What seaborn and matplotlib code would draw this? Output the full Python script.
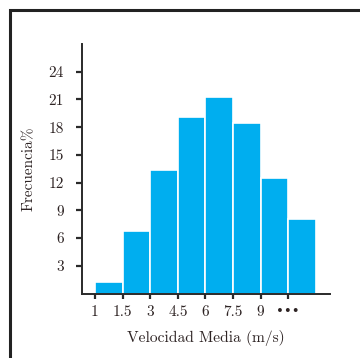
import numpy as np
import pandas as pd
import matplotlib
matplotlib.use("Agg")
import matplotlib.pyplot as plt
from matplotlib.patches import Rectangle
import seaborn as sns

# Wind speed classes (m/s) and the share of records in each class (%)
speed_labels = ["1", "1.5", "3", "4.5", "6", "7.5", "9", "•••"]
frequency_pct = [1.2, 6.8, 13.4, 19.1, 21.3, 18.4, 12.5, 8.1]
y_ticks = [3, 6, 9, 12, 15, 18, 21, 24]

sns.set_theme(style="ticks")
plt.rcParams["font.family"] = ["cmr10", "DejaVu Serif"]
plt.rcParams["mathtext.fontset"] = "cm"
plt.rcParams["axes.formatter.use_mathtext"] = True
plt.rcParams["axes.unicode_minus"] = False

text_color = "#2e2424"
bar_color = "#00AEEF"

fig = plt.figure(figsize=(3.6, 3.58), dpi=100)
fig.patch.set_facecolor("white")
ax = fig.add_axes([82 / 360, 1 - 293.5 / 358, 248 / 360, 249.5 / 358])

n = len(speed_labels)
df = pd.DataFrame({"clase": np.arange(n) + 0.5, "frecuencia": frequency_pct})
sns.histplot(data=df, x="clase", weights="frecuencia", binwidth=1,
             binrange=(0, n), ax=ax, color=bar_color, alpha=1.0,
             edgecolor="white", linewidth=1.2)

ax.set_xlim(-0.47, 8.51)
ax.set_ylim(0, 27)
ax.set_xticks(range(n))
ax.set_xticklabels(speed_labels)
ax.set_yticks(y_ticks)
ax.set_yticklabels([str(t) for t in y_ticks])

for side in ("top", "right"):
    ax.spines[side].set_visible(False)
for side in ("left", "bottom"):
    ax.spines[side].set_linewidth(1.4)
    ax.spines[side].set_color("#2a2a2a")

ax.tick_params(axis="x", length=3.5, width=1.6, color="#2a2a2a",
               labelsize=11, labelcolor=text_color, pad=5)
ax.tick_params(axis="y", length=4, width=1.6, color="#2a2a2a",
               labelsize=11, labelcolor=text_color, pad=9)
# the open-ended last class is marked with a row of dots
last = ax.get_xticklabels()[-1]
last.set_fontsize(9.5)
last.set_fontfamily(["DejaVu Sans"])

ax.set_xlabel("Velocidad Media (m/s)", fontsize=11.2, color=text_color, labelpad=8)
ax.set_ylabel("Frecuencia%", fontsize=11, color=text_color, labelpad=9)

# Page frame running off the right and bottom edges
fig.patches.append(Rectangle((10.2 / 360, -0.2), 2.0, 1 - 9.5 / 358 + 0.2,
                             transform=fig.transFigure, fill=False,
                             edgecolor="#222222", linewidth=2.2))

fig.savefig("out.png", dpi=100, facecolor="white")
